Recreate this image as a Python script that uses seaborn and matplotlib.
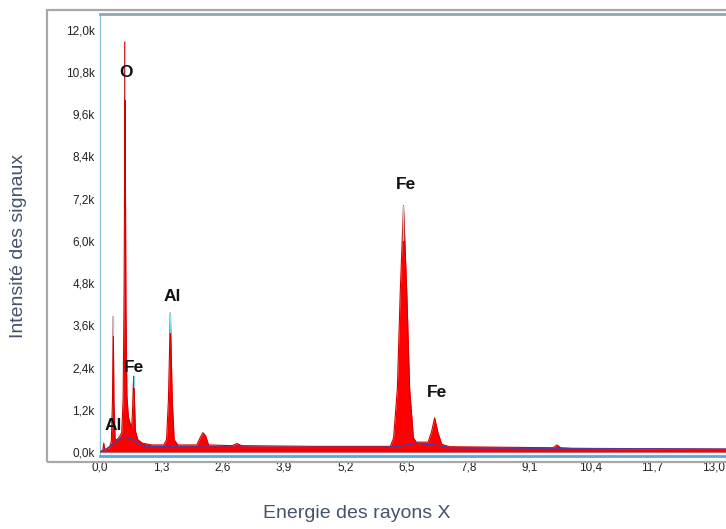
import numpy as np
import matplotlib
matplotlib.use("Agg")
import matplotlib.pyplot as plt
import seaborn as sns
from matplotlib.patches import Rectangle

# ---------------- data (keV, counts in k) ----------------
energy = [0.00, 0.06, 0.08, 0.10, 0.15, 0.20, 0.24, 0.265, 0.28, 0.295, 0.32, 0.36, 0.42,
          0.46, 0.49, 0.51, 0.525, 0.53, 0.535, 0.55, 0.57, 0.60, 0.64, 0.67,
          0.69, 0.705, 0.715, 0.725, 0.75, 0.80, 0.90, 1.10, 1.35,
          1.41, 1.45, 1.475, 1.49, 1.505, 1.53, 1.57, 1.65, 2.05, 2.12, 2.18, 2.24, 2.30,
          2.80, 2.90, 3.00, 4.50, 6.15, 6.22, 6.30, 6.36, 6.43, 6.50, 6.56, 6.64, 6.70,
          6.95, 7.02, 7.09, 7.16, 7.24, 7.40, 9.60, 9.68, 9.76, 10.0, 13.3]
counts = [0.00, 0.05, 0.25, 0.05, 0.10, 0.12, 0.30, 1.50, 3.85, 1.40, 0.35, 0.35, 0.45,
          0.55, 1.50, 4.50, 9.00, 11.65, 9.00, 4.00, 1.60, 1.00, 0.80, 0.70,
          1.20, 1.90, 2.15, 1.70, 0.60, 0.35, 0.25, 0.20, 0.20,
          0.35, 1.50, 3.00, 3.95, 3.00, 1.50, 0.35, 0.20, 0.20, 0.40, 0.55, 0.45, 0.20,
          0.18, 0.24, 0.18, 0.16, 0.16, 0.40, 1.80, 4.50, 7.00, 4.50, 1.80, 0.40, 0.28,
          0.28, 0.55, 0.97, 0.55, 0.22, 0.15, 0.12, 0.20, 0.12, 0.10, 0.08]

bg_energy = [0.0, 0.15, 0.30, 0.45, 0.55, 0.70, 0.85, 1.0, 1.5, 3.0, 6.0, 6.3, 6.7, 7.1, 7.4, 10.0, 13.3]
bg_counts = [0.0, 0.10, 0.25, 0.40, 0.42, 0.35, 0.20, 0.15, 0.15, 0.13, 0.13, 0.15, 0.25, 0.20, 0.12, 0.10, 0.08]

label_text = ["O", "Al", "Fe", "Al", "Fe", "Fe"]
label_E = [0.55, 1.53, 0.72, 0.28, 6.48, 7.14]
label_I = [10.77, 4.43, 2.41, 0.74, 7.61, 1.68]

xticks = [0.0, 1.3, 2.6, 3.9, 5.2, 6.5, 7.8, 9.1, 10.4, 11.7, 13.0]
yticks = [0.0, 1.2, 2.4, 3.6, 4.8, 6.0, 7.2, 8.4, 9.6, 10.8, 12.0]

# ---------------- figure ----------------
sns.set_theme(style="white")
plt.rcParams['font.family'] = ['Liberation Sans', 'DejaVu Sans']

W, H = 726, 529
fig = plt.figure(figsize=(W / 100, H / 100), dpi=100)

# outer gray frame
fig.patches.append(Rectangle((47 / W, 1 - 462 / H), (740 - 47) / W, (462 - 10) / H,
                             transform=fig.transFigure, fill=False,
                             edgecolor="#a8a8a8", linewidth=1.6, zorder=0))

left, right = 100, 726
top, bottom = 14, 455.5
ax = fig.add_axes([left / W, 1 - bottom / H, (right - left) / W, (bottom - top) / H])
ax.set_facecolor("white")

E = np.array(energy)
C = np.array(counts)
ax.fill_between(E, 0, C, color="#ff0000", linewidth=0, zorder=2)
sns.lineplot(x=E, y=C, ax=ax, color="#d40000", linewidth=0.8, estimator=None,
             sort=False, zorder=3)
sns.lineplot(x=bg_energy, y=bg_counts, ax=ax, color="#4b3c9e", linewidth=1.0,
             estimator=None, sort=False, zorder=4)

# cyan tips on main peaks
apex = [i for i in range(1, len(C) - 1) if C[i] > C[i - 1] and C[i] > C[i + 1] and C[i] > 1.5]
for i in apex:
    ax.plot([E[i], E[i]], [C[i] * 0.86, C[i]], color="#7fdbe8", linewidth=1.0, zorder=5)

for t, xe, yi in zip(label_text, label_E, label_I):
    ax.text(xe, yi, t, ha="center", va="center", fontsize=12.5, color="#111111",
            fontweight="bold", zorder=6)

ax.set_xlim(0, (right - left) / 47.2)
ax.set_ylim(-0.1, (452 - top) / 35.2)

ax.set_xticks(xticks)
ax.set_xticklabels([f"{v:.1f}".replace(".", ",") for v in xticks])
ax.set_yticks(yticks)
ax.set_yticklabels([f"{v:.1f}k".replace(".", ",") for v in yticks])
ax.tick_params(axis="both", labelsize=8.5, colors="#222222", length=2, width=0.6, pad=2)

ax.spines["right"].set_visible(False)
ax.spines["left"].set_color("#8fc3dd")
ax.spines["left"].set_linewidth(1.0)
ax.spines["top"].set_color("#8ea7b4")
ax.spines["top"].set_linewidth(2.0)
ax.spines["bottom"].set_color("#55a9dc")
ax.spines["bottom"].set_linewidth(2.0)
ax.axhline(0, color="#7fd4ea", linewidth=1.0, zorder=1)

fig.text(19 / W, 1 - 246 / H, "Intensité des signaux", rotation=90, ha="center", va="center",
         fontsize=14, color="#44546a")
fig.text(357 / W, 1 - 513 / H, "Energie des rayons X", ha="center", va="center",
         fontsize=14, color="#44546a")

fig.savefig("out.png", dpi=100)
